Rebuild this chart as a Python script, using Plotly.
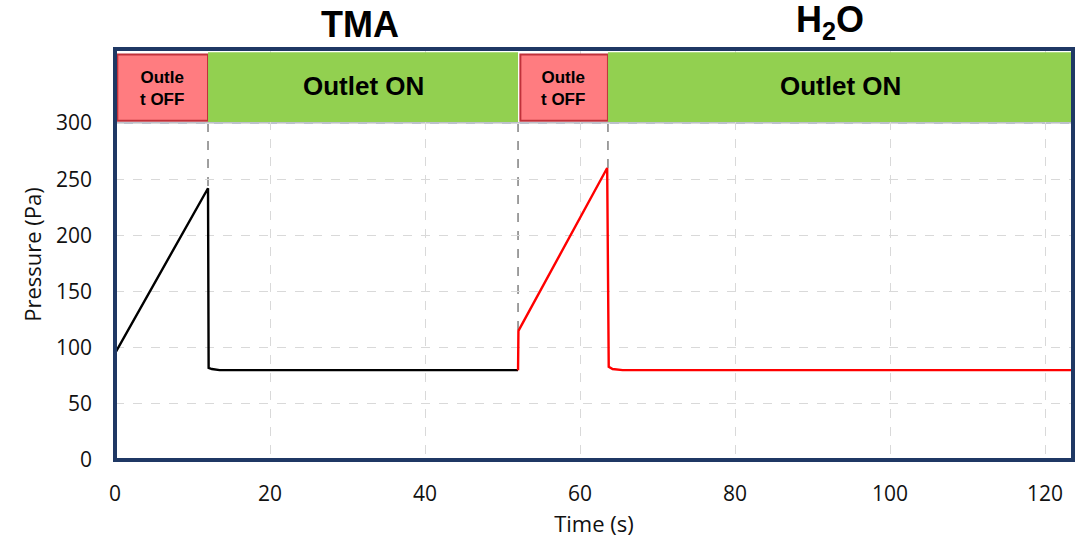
import plotly.graph_objects as go

# Pressure traces during one ALD cycle
tma_time = [0, 12.0, 12.08, 12.5, 13.5, 52.0]
tma_pressure = [95, 242, 82, 81, 80, 80]

h2o_time = [52.0, 52.05, 63.5, 63.7, 64.2, 65.5, 124.0]
h2o_pressure = [80, 115, 260, 83, 81, 80, 80]

# Outlet valve phases: (start, end, label, state)
phase_start = [0, 12.0, 52.0, 63.6]
phase_end = [12.0, 52.0, 63.6, 124.0]
phase_label = ["Outle<br>t OFF", "Outlet ON", "Outle<br>t OFF", "Outlet ON"]
phase_off = [True, False, True, False]

# Precursor step titles
step_label = ["TMA", "H<sub>2</sub>O"]
step_x = [31.6, 92.2]

x_ticks = [0, 20, 40, 60, 80, 100, 120]
y_ticks = [0, 50, 100, 150, 200, 250, 300]

X_MAX = 123.6
Y_MAX = 366

fig = go.Figure()

fig.add_trace(go.Scatter(x=tma_time, y=tma_pressure, mode="lines",
                         line=dict(color="black", width=2.4), showlegend=False))
fig.add_trace(go.Scatter(x=h2o_time, y=h2o_pressure, mode="lines",
                         line=dict(color="#FF0000", width=2.4), showlegend=False))

shapes = []
annotations = []

# grid line at 300 below the phase bar
shapes.append(dict(type="line", xref="x", yref="y", x0=0, x1=X_MAX, y0=300, y1=300,
                   line=dict(color="#A6ADBA", width=1.5), layer="below"))

# switching markers from the phase bar down to the trace
switch_x = [12.0, 52.0, 63.6]
switch_y = [242, 115, 260]
for sx, sy in zip(switch_x, switch_y):
    shapes.append(dict(type="line", xref="x", yref="y", x0=sx, x1=sx, y0=300, y1=sy,
                       line=dict(color="#808080", width=1.5, dash="dash"), layer="below"))

# phase bar
for s, e, lab, off in zip(phase_start, phase_end, phase_label, phase_off):
    if off:
        shapes.append(dict(type="rect", xref="x", yref="y", x0=s + 0.3, x1=e, y0=302, y1=361,
                           fillcolor="#FF7C80", line=dict(color="#C0313A", width=2),
                           layer="above"))
        annotations.append(dict(x=(s + e) / 2, y=331, xref="x", yref="y", text=f"<b>{lab}</b>",
                                showarrow=False, font=dict(family="Liberation Sans, Arial",
                                                           size=17, color="black")))
    else:
        shapes.append(dict(type="rect", xref="x", yref="y", x0=s, x1=min(e, X_MAX), y0=301, y1=363,
                           fillcolor="#92D050", line=dict(width=0), layer="above"))
        annotations.append(dict(x=(s + min(e, X_MAX)) / 2, y=333, xref="x", yref="y",
                                text=f"<b>{lab}</b>", showarrow=False,
                                font=dict(family="Liberation Sans, Arial", size=26, color="black")))

# navy plot frame
shapes.append(dict(type="rect", xref="paper", yref="paper", x0=0, x1=1, y0=0, y1=1,
                   line=dict(color="#1F3864", width=4), layer="above"))

for lab, sx in zip(step_label, step_x):
    annotations.append(dict(x=sx, y=1.0, xref="x", yref="paper", yanchor="bottom", yshift=2,
                            text=f"<b>{lab}</b>", showarrow=False,
                            font=dict(family="Liberation Sans, Arial", size=36, color="black")))

fig.update_layout(
    width=1078, height=545,
    margin=dict(l=115, r=5, t=49, b=85),
    paper_bgcolor="white", plot_bgcolor="white",
    shapes=shapes, annotations=annotations,
    font=dict(family="Open Sans, Noto Sans, sans-serif", size=21, color="#111111"),
    xaxis=dict(range=[0, X_MAX], tickvals=x_ticks, showgrid=True, gridcolor="#D9D9D9",
               griddash="dash", gridwidth=1, zeroline=False, showline=False, ticks="",
               ticklabelstandoff=19,
               title=dict(text="Time (s)", font=dict(size=22), standoff=10),
               tickfont=dict(size=21)),
    yaxis=dict(range=[0, Y_MAX], tickvals=y_ticks, showgrid=True, gridcolor="#D9D9D9",
               griddash="dash", gridwidth=1, zeroline=False, showline=False, ticks="",
               ticklabelstandoff=22,
               title=dict(text="Pressure (Pa)", font=dict(size=22), standoff=8),
               tickfont=dict(size=21)),
)

fig.write_html("out.html")
